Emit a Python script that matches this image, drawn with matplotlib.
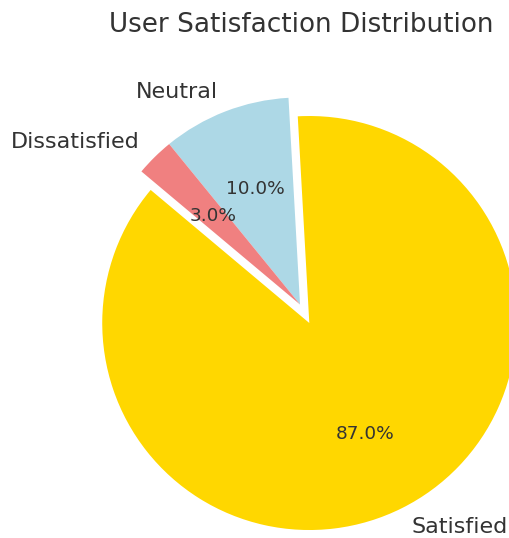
import matplotlib
matplotlib.use("Agg")
import matplotlib.pyplot as plt

labels = ["Satisfied", "Neutral", "Dissatisfied"]
values = [87, 10, 3]
colors = ["#FFD700", "#ADD8E6", "#F08080"]
explode = [0.1, 0, 0]

TEXT = "#333333"
fig = plt.figure(figsize=(5.10, 5.38), dpi=100)
ax = fig.add_axes([0, 0, 1, 1])
wedges, texts, autotexts = ax.pie(values, labels=labels, colors=colors, explode=explode,
                                  autopct="%1.1f%%", startangle=140,
                                  textprops={"color": TEXT, "fontsize": 16})
for t in autotexts:
    t.set_fontsize(13.3)
ax.set_xlim(-1.449, 1.014)
ax.set_ylim(-1.128, 1.471)
ax.set_aspect("auto")
ax.axis("off")
fig.text(301/510, 1 - 25/538, "User Satisfaction Distribution", ha="center", va="center",
         fontsize=18.9, color=TEXT)
fig.savefig("out.png", dpi=100)
